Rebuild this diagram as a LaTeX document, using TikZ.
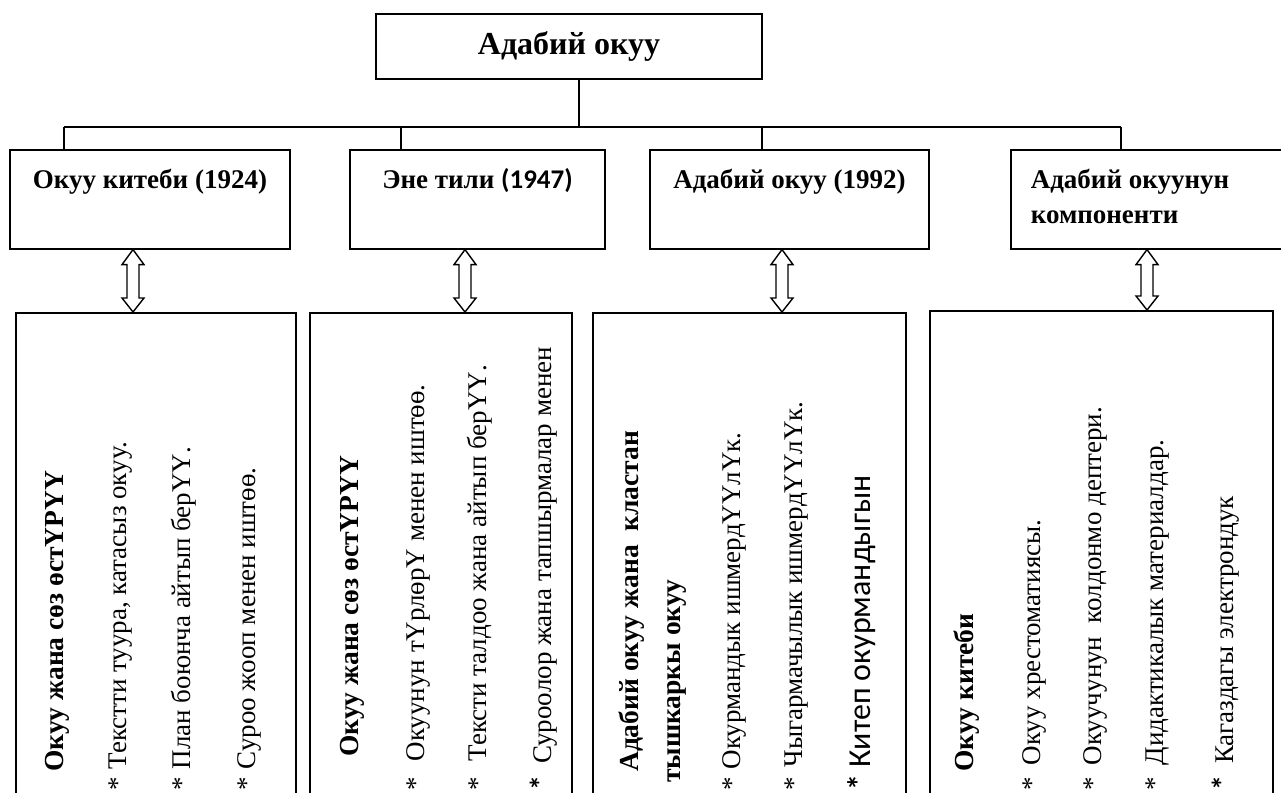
\documentclass[tikz,border=0pt]{standalone}
\usepackage{fontspec}
\setmainfont{Liberation Serif}
\newfontfamily\calibri{Carlito}
\usetikzlibrary{calc}
\newcommand{\hollowdbl}[2]{%
  \draw[arrowline] (#1) -- ++(11,15) -- ++(-5,0) -- ($(#2)+(6,-14)$) -- ++(5,0) -- (#2)
     -- ++(-11,-14) -- ++(5,0) -- ($(#1)+(-6,15)$) -- ++(-5,0) -- cycle;}
\begin{document}
\begin{tikzpicture}[x=1pt,y=-1pt,
  box/.style={draw, line width=1.6pt, rectangle, inner sep=0pt},
  conn/.style={line width=1.3pt},
  arrowline/.style={line width=1.4pt, line join=miter},
  head/.style={box, anchor=north, font=\fontsize{27}{35}\selectfont\bfseries,
     text height=39pt, text depth=60pt, minimum height=99pt},
  lower/.style={box, anchor=north, minimum height=520pt},
  vtext/.style={rotate=90, anchor=base west, inner sep=0pt, font=\fontsize{27}{32}\selectfont},
  btext/.style={vtext, font=\fontsize{27.5}{32}\selectfont\bfseries}]
\useasboundingbox (0,0) rectangle (1281,792);

% top
\node[box, minimum width=386pt, minimum height=65pt, font=\fontsize{32}{38}\selectfont\bfseries] (top) at (569,46.5) {Адабий окуу};

% second row
\node[head, minimum width=280pt] (c1) at (150,149) {Окуу китеби (1924)};
\node[head, minimum width=255pt] (c2) at (477.5,149) {Эне тили {\calibri(1947)}};
\node[head, minimum width=279pt] (c3) at (789.5,149) {Адабий окуу (1992)};
\node[head, anchor=north west, minimum width=280pt, inner xsep=20pt] (c4) at (1010,149)
  {\parbox[t]{240pt}{\raggedright Адабий окуунун\\компоненти}};

% connectors
\coordinate (trunk) at (579,127);
\coordinate (d1) at (64,127);
\coordinate (d2) at (401,127);
\coordinate (d3) at (762,127);
\coordinate (d4) at (1121,127);
\draw[conn] (trunk |- top.south) -- (trunk);
\draw[conn] (d1) -- (d4);
\foreach \i in {1,...,4} \draw[conn] (d\i) -- (d\i |- c\i.north);

% bottom boxes
\node[lower, minimum width=280pt] (b1) at (156,312) {};
\node[lower, minimum width=262pt] (b2) at (441,312) {};
\node[lower, minimum width=313pt] (b3) at (749.5,312) {};
\node[lower, minimum width=343pt] (b4) at (1101.5,310) {};

% double arrows
\coordinate (a1) at (133,0);
\coordinate (a2) at (465,0);
\coordinate (a3) at (782,0);
\coordinate (a4) at (1147,0);
\foreach \i in {1,...,4} {
  \coordinate (a\i t) at (a\i |- c\i.south);
  \coordinate (a\i b) at (a\i |- b\i.north);
  \hollowdbl{a\i t}{a\i b}
}

% box 1 texts
\node[btext] (t11) at (63,772) {Окуу жана сөз өстҮРҮҮ};
\node[vtext] (t12) at (126,791) {*\hspace{8pt}Текстти туура, катасыз окуу.};
\node[vtext] (t13) at (190,791) {*\hspace{8pt}План боюнча айтып берҮҮ.};
\node[vtext] (t14) at (255,791) {*\hspace{8pt}Суроо жооп менен иштөө.};

% box 2 texts
\node[btext] (t21) at (358,757) {Окуу жана сөз өстҮРҮҮ};
\node[vtext] (t22) at (424,791) {*\hspace{16pt}Окуунун тҮрлөрҮ менен иштөө.};
\node[vtext] (t23) at (486,791) {*\hspace{16pt}Тексти талдоо жана айтып берҮҮ.};
\node[vtext] (t24) at (551,791) {{\calibri\bfseries\fontsize{30}{32}\selectfont *}\hspace{12pt}Суроолор жана тапшырмалар менен};

% box 3 texts
\node[btext] (t31) at (638,772) {Адабий окуу жана\ \ кластан};
\node[btext] (t32) at (680,783) {тышкаркы окуу};
\node[vtext] (t33) at (740,791) {*\hspace{8pt}Окурмандык ишмердҮҮлҮк.};
\node[vtext] (t34) at (802,791) {*\hspace{10pt}Чыгармачылык ишмердҮҮлҮк.};
\node[vtext, font=\calibri\fontsize{32}{36}\selectfont] (t35) at (870,791) {{\bfseries *} Китеп окурмандыгын};

% box 4 texts
\node[btext] (t41) at (973,772) {Окуу китеби};
\node[vtext] (t42) at (1040,791) {*\hspace{12pt}Окуу хрестоматиясы.};
\node[vtext] (t43) at (1101,791) {*\hspace{12pt}Окуучунун\ \ колдонмо дептери.};
\node[vtext] (t44) at (1163,791) {*\hspace{12pt}Дидактикалык материалдар.};
\node[vtext] (t45) at (1233,791) {{\calibri\bfseries\fontsize{30}{32}\selectfont *}\hspace{12pt}Кагаздагы электрондук};
\end{tikzpicture}
\end{document}
